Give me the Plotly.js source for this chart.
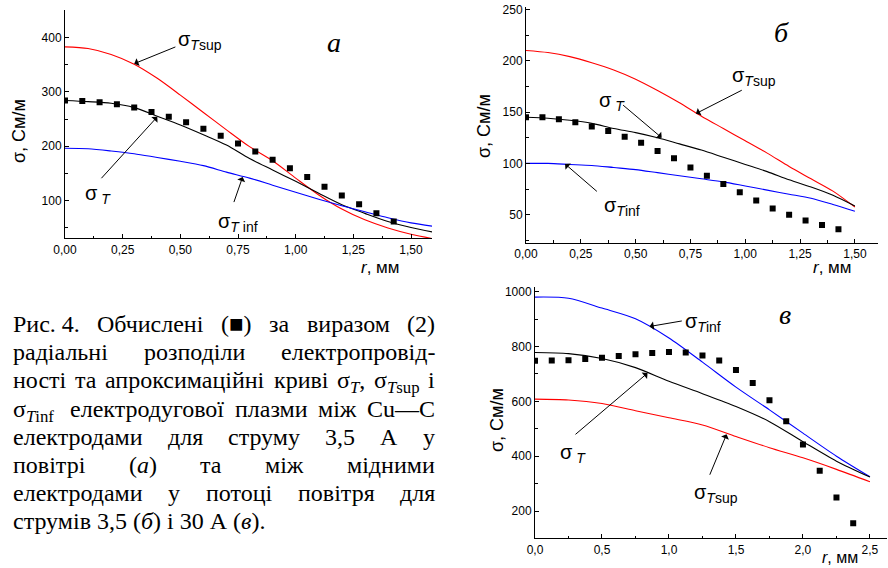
<!DOCTYPE html>
<html><head><meta charset="utf-8">
<script src="https://cdn.plot.ly/plotly-3.0.1.min.js"></script>
<style>html,body{margin:0;padding:0;background:#fff}#chart{width:888px;height:568px}</style>
</head><body><div id="chart"></div>
<script>
// ---------- DATA ----------
// Panel a
const rA_pts   = [0.000,0.075,0.150,0.225,0.300,0.375,0.450,0.525,0.600,0.675,0.750,0.825,0.900,0.975,1.050,1.125,1.200,1.275,1.350,1.425];
const sigA_pts = [284,283,281,277,271,263,254,244,232,219,205,190,175,159,143,125,109,93,76,61];
const rA_curve = [0,0.1,0.2,0.3,0.4,0.5,0.6,0.7,0.8,0.9,1.0,1.1,1.2,1.3,1.4,1.5,1.6];
const sigA_sup = [383,380,369,351,325,294,262,230,199,173,141,110,84,64,49,37.5,29];
const sigA_T   = [284,282,279,271,255,239,221,202,177,156,135,113,92,76,61,50,41];
const sigA_inf = [196,195,191,186,179,172,164,152,141,128,115,102,90,79,68,58.5,52];
// Panel б
const rB_pts   = [0.000,0.075,0.150,0.225,0.300,0.375,0.450,0.525,0.600,0.675,0.750,0.825,0.900,0.975,1.050,1.125,1.200,1.275,1.350,1.425];
const sigB_pts = [145,145,143,140,136,131.5,126,120,112,105,96,88,80,72,64,56,50,44.5,40,36];
const rB_curve = [0,0.1,0.2,0.3,0.4,0.5,0.6,0.7,0.8,0.9,1.0,1.1,1.2,1.3,1.4,1.5];
const sigB_sup = [210,208,204,198,191,182,171,159,146,134,122,110,97,85,73,57.5];
const sigB_T   = [145,144,142,139,134,130,125,119,113,106,99,92,84,77,69,58.5];
const sigB_inf = [100,100,99,98,96,94,91,88,85,82,78,74,70,66,60,53.5];
// Panel в
const rC_pts   = [0.000,0.125,0.250,0.375,0.500,0.625,0.750,0.875,1.000,1.125,1.250,1.375,1.500,1.625,1.750,1.875,2.000,2.125,2.250,2.375];
const sigC_pts = [748,749,750,754,759,765,772,776,780,778,767,749,714,667,604,527,443,347,249,156];
const rC_curve = [0,0.25,0.5,0.75,1.0,1.25,1.5,1.75,2.0,2.25,2.5];
const sigC_inf = [980,976,940,901,831,743,652,569,484,400,325];
const sigC_T   = [778,774,756,723,673,628,581,526,453,382,324];
const sigC_sup = [608,605,592,566,540,514,472,431,394,352,307];

// Caption words (justified lines) and last line
const captionLines = [
  ["Рис.\u00a04.", "Обчислені", "(■)", "за", "виразом", "(2)"],
  ["радіальні", "розподіли", "електропровід-"],
  ["ності", "та", "апроксимаційні", "криві", "σ<sub><i>T</i></sub>,", "σ<sub><i>T</i>sup</sub>", "і"],
  ["σ<sub><i>T</i>inf</sub>\u00a0", "електродугової", "плазми", "між", "Cu—C"],
  ["електродами", "для", "струму", "3,5", "А", "у"],
  ["повітрі", "(<i>а</i>)", "та", "між", "мідними"],
  ["електродами", "у", "потоці", "повітря", "для"]
];
const captionLast = "струмів 3,5 (<i>б</i>) і 30 А (<i>в</i>).";

// ---------- LAYOUT HELPERS ----------
const W = 888, H = 568;
const px = x => x / W;
const py = y => 1 - y / H;
const SANS = 'Liberation Sans, Arial, sans-serif';
const SERIF = 'Liberation Serif, Times New Roman, serif';

const axBase = {
  showline: true, linecolor: '#000', linewidth: 1, mirror: false,
  ticks: 'inside', ticklen: 4, tickwidth: 1, tickcolor: '#000',
  showgrid: false, zeroline: false, fixedrange: true,
  tickfont: {family: SANS, size: 12, color: '#000'}
};
function minor(d) { return {ticks: 'inside', ticklen: 2.5, tickwidth: 1, tickcolor: '#000', dtick: d, showgrid: false}; }

function lineTrace(x, y, color, xa, ya) {
  return {x: x, y: y, xaxis: xa, yaxis: ya, mode: 'lines', type: 'scatter',
          line: {color: color, width: 1.1, shape: 'spline', smoothing: 0.8}, hoverinfo: 'skip'};
}
function ptsTrace(x, y, xa, ya) {
  return {x: x, y: y, xaxis: xa, yaxis: ya, mode: 'markers', type: 'scatter',
          marker: {symbol: 'square', size: 6, color: '#000'}, hoverinfo: 'skip'};
}

const traces = [
  lineTrace(rA_curve, sigA_sup, '#ff0000', 'x', 'y'),
  lineTrace(rA_curve, sigA_T, '#000000', 'x', 'y'),
  lineTrace(rA_curve, sigA_inf, '#0000ff', 'x', 'y'),
  ptsTrace(rA_pts, sigA_pts, 'x', 'y'),
  lineTrace(rB_curve, sigB_sup, '#ff0000', 'x2', 'y2'),
  lineTrace(rB_curve, sigB_T, '#000000', 'x2', 'y2'),
  lineTrace(rB_curve, sigB_inf, '#0000ff', 'x2', 'y2'),
  ptsTrace(rB_pts, sigB_pts, 'x2', 'y2'),
  lineTrace(rC_curve, sigC_inf, '#0000ff', 'x3', 'y3'),
  lineTrace(rC_curve, sigC_T, '#000000', 'x3', 'y3'),
  lineTrace(rC_curve, sigC_sup, '#ff0000', 'x3', 'y3'),
  ptsTrace(rC_pts, sigC_pts, 'x3', 'y3')
];

const annotations = [];
function label(xl, yc, text, size) {
  annotations.push({xref: 'paper', yref: 'paper', x: px(xl), y: py(yc), xanchor: 'left', yanchor: 'middle',
    text: text, showarrow: false, font: {family: SANS, size: size || 20, color: '#000'}});
}
function arrow(xr, yr, tip, tail) {
  annotations.push({xref: xr, yref: yr, axref: xr, ayref: yr, x: tip[0], y: tip[1], ax: tail[0], ay: tail[1],
    text: '', showarrow: true, arrowhead: 1, arrowsize: 1.4, arrowwidth: 1, arrowcolor: '#000', standoff: 0, startstandoff: 0});
}
function letter(xc, yc, text) {
  annotations.push({xref: 'paper', yref: 'paper', x: px(xc), y: py(yc), xanchor: 'center', yanchor: 'middle',
    text: '<i>' + text + '</i>', showarrow: false, font: {family: SERIF, size: 28, color: '#000'}});
}
function ytitle(xc, yc) {
  annotations.push({xref: 'paper', yref: 'paper', x: px(xc), y: py(yc), xanchor: 'center', yanchor: 'middle',
    text: 'σ, См/м', textangle: -90, showarrow: false, font: {family: SANS, size: 18, color: '#000'}});
}
function xtitle(xc, yc, size) {
  annotations.push({xref: 'paper', yref: 'paper', x: px(xc), y: py(yc), xanchor: 'center', yanchor: 'middle',
    text: '<i>r</i>, мм', showarrow: false, font: {family: SANS, size: size || 17, color: '#000'}});
}

const S_SUP = 'σ<sub><i>T</i>sup</sub>';
const S_T = 'σ<sub> <i>T</i></sub>';
const S_INF = 'σ<sub><i>T</i> inf</sub>';
const S_INF2 = 'σ<sub><i>T</i>inf</sub>';

// Panel a
label(176, 40, S_SUP); arrow('x', 'y', [0.30, 352], [0.485, 384]);
label(83, 195, S_T);   arrow('x', 'y', [0.40, 254], [0.152, 138]);
label(216, 222, S_INF); arrow('x', 'y', [0.77, 143], [0.73, 94]);
letter(334, 43, 'a');
ytitle(19, 131); xtitle(380, 267);
// Panel б
label(730, 76, S_SUP); arrow('x2', 'y2', [0.775, 148.5], [0.991, 172]);
label(597, 102, S_T);  arrow('x2', 'y2', [0.619, 125], [0.436, 158]);
label(602, 206, S_INF2); arrow('x2', 'y2', [0.178, 99.5], [0.33, 71.5]);
letter(781.5, 32.5, 'б');
ytitle(484, 126); xtitle(832, 267);
// Panel в
label(683, 322, S_INF2); arrow('x3', 'y3', [0.855, 873], [1.107, 894]);
label(558, 453, S_T);   arrow('x3', 'y3', [0.84, 703], [0.291, 475]);
label(692, 493, S_SUP); arrow('x3', 'y3', [1.43, 480], [1.30, 327]);
letter(785, 314.7, 'в');
ytitle(497, 420); xtitle(840, 557, 16);

// Caption
const CAP_LEFT = 13, CAP_RIGHT = 435, CAP_TOP0 = 311, CAP_STEP = 28.2, CAP_SIZE = 24;
const capIdx = [];
captionLines.forEach((words, li) => {
  const idxs = [];
  words.forEach(w => {
    idxs.push(annotations.length);
    annotations.push({xref: 'paper', yref: 'paper', x: px(CAP_LEFT), y: py(CAP_TOP0 + li * CAP_STEP),
      xanchor: 'left', yanchor: 'top', text: w, showarrow: false, borderpad: 0, borderwidth: 0,
      font: {family: SERIF, size: CAP_SIZE, color: '#000'}});
  });
  capIdx.push(idxs);
});
annotations.push({xref: 'paper', yref: 'paper', x: px(CAP_LEFT), y: py(CAP_TOP0 + 7 * CAP_STEP),
  xanchor: 'left', yanchor: 'top', text: captionLast, showarrow: false, borderpad: 0, borderwidth: 0,
  font: {family: SERIF, size: CAP_SIZE, color: '#000'}});

const layout = {
  width: W, height: H, margin: {l: 0, r: 0, t: 0, b: 0},
  paper_bgcolor: '#fff', plot_bgcolor: 'rgba(0,0,0,0)', showlegend: false,
  separators: ', ',
  xaxis: Object.assign({}, axBase, {domain: [px(65), px(432)], range: [0, 1.591], tick0: 0, dtick: 0.25, tickformat: '.2f', minor: minor(0.125), anchor: 'y'}),
  yaxis: Object.assign({}, axBase, {domain: [py(238.3), py(10)], range: [30, 451], tick0: 0, dtick: 100, minor: minor(50), anchor: 'x'}),
  xaxis2: Object.assign({}, axBase, {domain: [px(526), px(877.7)], range: [0, 1.604], tick0: 0, dtick: 0.25, tickformat: '.2f', minor: minor(0.125), anchor: 'y2'}),
  yaxis2: Object.assign({}, axBase, {domain: [py(242.7), py(7)], range: [22.8, 252.3], tick0: 0, dtick: 50, minor: minor(25), anchor: 'x2'}),
  xaxis3: Object.assign({}, axBase, {domain: [px(535), px(886.7)], range: [0, 2.625], tick0: 0, dtick: 0.5, tickformat: '.1f', minor: minor(0.25), anchor: 'y3'}),
  yaxis3: Object.assign({}, axBase, {domain: [py(538.3), py(286.7)], range: [100.7, 1018], tick0: 0, dtick: 200, minor: minor(100), anchor: 'x3'}),
  annotations: annotations
};

const gd = document.getElementById('chart');
Plotly.newPlot(gd, traces, layout, {staticPlot: true, displayModeBar: false}).then(() => {
  const widths = {};
  gd.querySelectorAll('g.annotation').forEach(g => {
    const i = +g.getAttribute('data-index');
    const t = g.querySelector('text.annotation-text');
    if (t) widths[i] = t.getBBox().width;
  });
  const upd = {};
  const span = CAP_RIGHT - CAP_LEFT;
  capIdx.forEach(idxs => {
    let total = 0;
    idxs.forEach(i => total += (widths[i] || 0));
    const gap = idxs.length > 1 ? (span - total) / (idxs.length - 1) : 0;
    let x = CAP_LEFT;
    idxs.forEach(i => {
      upd['annotations[' + i + '].x'] = px(x);
      x += (widths[i] || 0) + gap;
    });
  });
  return Plotly.relayout(gd, upd);
});
</script>
</body></html>
